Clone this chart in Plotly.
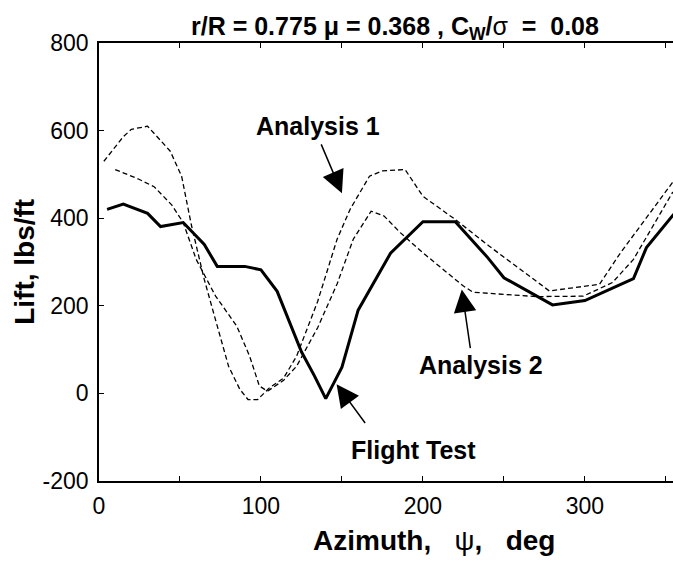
import plotly.graph_objects as go

# ---- data (azimuth deg, lift lbs/ft) ----
flight_x = [5, 15, 30, 38, 52, 65, 73, 90, 100, 110, 125, 133, 140, 150, 160, 180, 200, 220, 240, 250, 280, 300, 330, 338, 354, 360]
flight_y = [420, 432, 411, 381, 390, 340, 290, 290, 282, 233, 95, 40, -12, 60, 190, 320, 392, 392, 310, 264, 202, 212, 262, 333, 405, 430]

an1_x = [3, 15, 20, 30, 44, 51, 57, 65, 73, 80, 87, 92, 98, 105, 114, 122, 135, 147, 155, 167, 175, 189, 200, 220, 241, 278, 309, 322, 354, 360]
an1_y = [530, 586, 603, 610, 553, 496, 385, 260, 154, 62, 9, -14, -14, 12, 35, 85, 210, 352, 420, 496, 508, 511, 450, 397, 336, 234, 249, 321, 481, 505]

an2_x = [10, 24, 34, 45, 52, 60, 72, 85, 93, 99, 104, 114, 122, 135, 147, 157, 168, 176, 186, 200, 225, 231, 270, 299, 317, 330, 354, 360]
an2_y = [511, 490, 472, 430, 390, 306, 222, 154, 85, 17, 5, 30, 62, 150, 250, 352, 416, 405, 367, 321, 245, 231, 221, 222, 253, 306, 458, 475]

x_ticks = [0, 50, 100, 150, 200, 250, 300, 350]
x_tick_text = ["0", "", "100", "", "200", "", "300", ""]
y_ticks = [-200, 0, 200, 400, 600, 800]
y_tick_text = ["-200", "0", "200", "400", "600", "800"]

FONT = "Arial, Liberation Sans, Helvetica, sans-serif"

fig = go.Figure()
fig.add_trace(go.Scatter(x=an1_x, y=an1_y, mode="lines",
                         line=dict(color="black", width=1.3, dash="5px,3px"), name="Analysis 1"))
fig.add_trace(go.Scatter(x=an2_x, y=an2_y, mode="lines",
                         line=dict(color="black", width=1.3, dash="5px,3px"), name="Analysis 2"))
fig.add_trace(go.Scatter(x=flight_x, y=flight_y, mode="lines",
                         line=dict(color="black", width=3), name="Flight Test"))

fig.update_layout(
    width=673, height=563,
    margin=dict(l=99, r=0, t=43, b=82),
    paper_bgcolor="white", plot_bgcolor="white",
    showlegend=False,
    font=dict(family=FONT, color="black"),
)
fig.update_xaxes(range=[0, 354.4], tickvals=x_ticks, ticktext=x_tick_text,
                 ticks="inside", ticklen=5, tickwidth=1, tickcolor="black",
                 showline=True, linecolor="black", linewidth=1.5, mirror="ticks",
                 showgrid=False, zeroline=False,
                 tickfont=dict(size=23, family=FONT), ticklabelstandoff=4)
fig.update_yaxes(range=[-200, 800], tickvals=y_ticks, ticktext=y_tick_text,
                 ticks="inside", ticklen=5, tickwidth=1, tickcolor="black",
                 showline=True, linecolor="black", linewidth=1.5, mirror=False,
                 showgrid=False, zeroline=False,
                 tickfont=dict(size=23, family=FONT), ticklabelstandoff=4)

ann = []
# title
ann.append(dict(xref="paper", yref="paper", x=0.516, y=1.034, xanchor="center", yanchor="middle",
                text="<b>r/R = 0.775 μ = 0.368 , C<sub>W</sub>/</b>σ<b>\u00a0 =\u00a0 0.08</b>",
                showarrow=False, font=dict(size=25, family=FONT)))
# x title
ann.append(dict(xref="paper", yref="paper", x=0.584, y=-0.135, xanchor="center", yanchor="middle",
                text="<b>Azimuth,\u00a0\u00a0 </b>ψ<b>,\u00a0\u00a0 deg</b>",
                showarrow=False, font=dict(size=28, family=FONT)))
# y title
ann.append(dict(xref="paper", yref="paper", x=-0.131, y=0.5, xanchor="center", yanchor="middle",
                text="<b>Lift, lbs/ft</b>", textangle=-90,
                showarrow=False, font=dict(size=28, family=FONT)))
# labels
ann.append(dict(xref="x", yref="y", x=135, y=610, text="<b>Analysis 1</b>", showarrow=False,
                font=dict(size=25, family=FONT)))
ann.append(dict(xref="x", yref="y", x=236, y=64, text="<b>Analysis 2</b>", showarrow=False,
                font=dict(size=25, family=FONT)))
ann.append(dict(xref="x", yref="y", x=194, y=-130, text="<b>Flight Test</b>", showarrow=False,
                font=dict(size=25, family=FONT)))
# arrows
for (tx, ty, sx, sy) in [(150, 457, 136.8, 572), (224, 237, 229.4, 100), (146.7, 21, 165, -71)]:
    ann.append(dict(xref="x", yref="y", axref="x", ayref="y", x=tx, y=ty, ax=sx, ay=sy,
                    text="", showarrow=True, arrowhead=2, arrowsize=3, arrowwidth=1.5,
                    arrowcolor="black"))
fig.update_layout(annotations=ann)

fig.write_html("out.html")
